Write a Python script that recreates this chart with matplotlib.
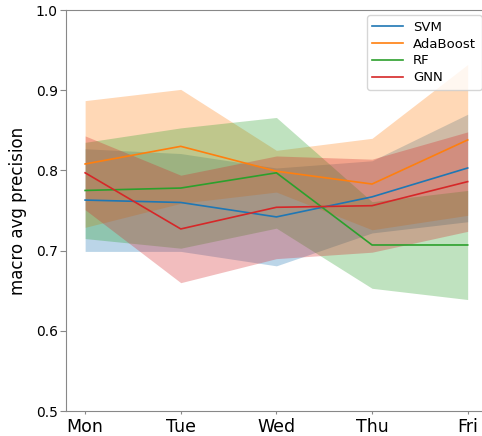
import matplotlib
matplotlib.use("Agg")
import matplotlib.pyplot as plt
import numpy as np

days = ["Mon", "Tue", "Wed", "Thu", "Fri"]
models = ["SVM", "AdaBoost", "RF", "GNN"]

svm_mean = [0.763, 0.760, 0.742, 0.767, 0.803]
svm_std = [0.064, 0.061, 0.061, 0.045, 0.067]
ada_mean = [0.808, 0.830, 0.799, 0.783, 0.838]
ada_std = [0.079, 0.071, 0.026, 0.057, 0.094]
rf_mean = [0.775, 0.778, 0.797, 0.707, 0.707]
rf_std = [0.060, 0.075, 0.069, 0.054, 0.068]
gnn_mean = [0.797, 0.727, 0.754, 0.756, 0.786]
gnn_std = [0.046, 0.067, 0.064, 0.058, 0.062]

means = [svm_mean, ada_mean, rf_mean, gnn_mean]
stds = [svm_std, ada_std, rf_std, gnn_std]
colors = ["tab:blue", "tab:orange", "tab:green", "tab:red"]

fig = plt.figure(figsize=(4.82, 4.36), dpi=100)
ax = fig.add_axes([66 / 482, 1 - 411 / 436, (486.8 - 66) / 482, (411 - 10) / 436])

x = np.arange(len(days))
for name, m, s, c in zip(models, means, stds, colors):
    m = np.array(m)
    s = np.array(s)
    ax.plot(x, m, color=c, lw=1.2, label=name)
    ax.fill_between(x, m - s, m + s, color=c, alpha=0.3, lw=0)

ax.set_ylim(0.5, 1.0)
ax.set_xticks(x)
ax.set_xticklabels(days, fontsize=12.5)
ax.tick_params(axis="x", length=2, pad=3, color="#888888")
ax.tick_params(axis="y", labelsize=10, length=4.5, pad=1.5, color="#888888")
ax.set_ylabel("macro avg precision", fontsize=12, labelpad=6)
for sp in ax.spines.values():
    sp.set_color("#888888")
ax.spines["right"].set_visible(False)
ax.legend(loc="upper right", fontsize=9.5, labelspacing=0.3, handlelength=2.3,
          borderaxespad=0.4)

fig.savefig("out.png", dpi=100)
